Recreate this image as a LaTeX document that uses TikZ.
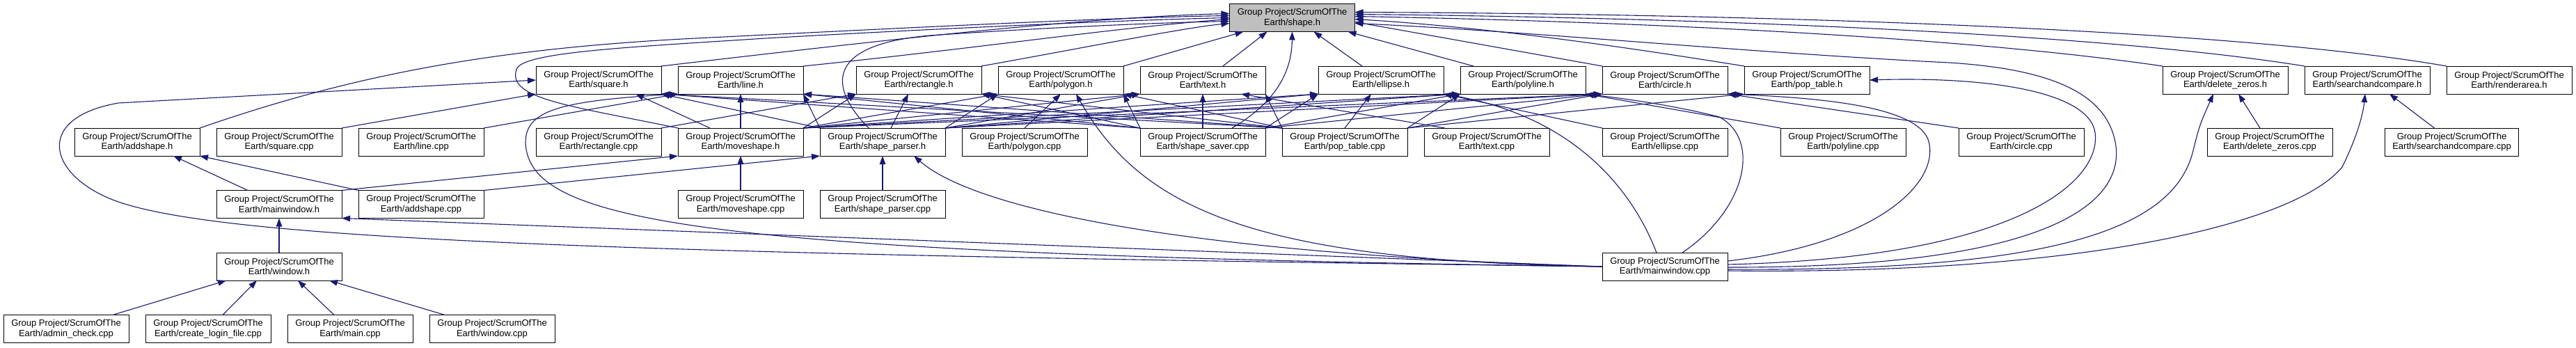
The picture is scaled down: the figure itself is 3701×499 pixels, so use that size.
\documentclass[tikz,border=0pt]{standalone}
\usepackage{fontspec}
\setmainfont{Liberation Sans}
\usepackage{tikz}
\usetikzlibrary{arrows.meta, positioning}
\definecolor{edgeblue}{RGB}{25,25,112}
\definecolor{curgray}{RGB}{191,191,191}
\tikzset{
  file/.style={
    rectangle, draw=black, fill=white, line width=1pt, outer sep=0pt,
    minimum width=180pt, minimum height=40pt, inner xsep=11pt,
    align=center, font=\fontsize{13pt}{14.5pt}\selectfont
  },
  cur/.style={file, fill=curgray},
  dep/.style={draw=edgeblue, line width=1.1pt, -{Triangle[length=12pt,width=8.5pt]}}
}

\begin{document}
\begin{tikzpicture}[x=1pt, y=-1pt]
  \useasboundingbox (0,0) rectangle (3701,499);

  \node[cur] (shp) at (1856.5,25.5) {Group Project/ScrumOfThe\\Earth/shape.h};

  % headers
  \node[file] (sqh) at (860,115) {Group Project/ScrumOfThe\\Earth/square.h};
  \node[file, right=24pt of sqh] (lnh) {Group Project/ScrumOfThe\\Earth/line.h};
  \node[file, right=76pt of lnh] (rch) {Group Project/ScrumOfThe\\Earth/rectangle.h};
  \node[file, right=24pt of rch] (pgh) {Group Project/ScrumOfThe\\Earth/polygon.h};
  \node[file, right=24pt of pgh] (txh) {Group Project/ScrumOfThe\\Earth/text.h};
  \node[file, right=76pt of txh] (elh) {Group Project/ScrumOfThe\\Earth/ellipse.h};
  \node[file, right=24pt of elh] (plh) {Group Project/ScrumOfThe\\Earth/polyline.h};
  \node[file, right=24pt of plh] (cih) {Group Project/ScrumOfThe\\Earth/circle.h};
  \node[file, right=24pt of cih] (pth) {Group Project/ScrumOfThe\\Earth/pop\_table.h};
  \node[file] (dzh) at (3197,115) {Group Project/ScrumOfThe\\Earth/delete\_zeros.h};
  \node[file, right=24pt of dzh] (sch) {Group Project/ScrumOfThe\\Earth/searchandcompare.h};
  \node[file, right=24pt of sch] (rah) {Group Project/ScrumOfThe\\Earth/renderarea.h};

  % second row
  \node[file] (ash) at (197,204) {Group Project/ScrumOfThe\\Earth/addshape.h};
  \node[file, right=24pt of ash] (sqc) {Group Project/ScrumOfThe\\Earth/square.cpp};
  \node[file, right=24pt of sqc] (lnc) {Group Project/ScrumOfThe\\Earth/line.cpp};
  \node[file, right=75pt of lnc] (rcc) {Group Project/ScrumOfThe\\Earth/rectangle.cpp};
  \node[file, right=24pt of rcc] (msh) {Group Project/ScrumOfThe\\Earth/moveshape.h};
  \node[file, right=24pt of msh] (sph) {Group Project/ScrumOfThe\\Earth/shape\_parser.h};
  \node[file, right=24pt of sph] (pgc) {Group Project/ScrumOfThe\\Earth/polygon.cpp};
  \node[file, right=76pt of pgc] (ssc) {Group Project/ScrumOfThe\\Earth/shape\_saver.cpp};
  \node[file, right=24pt of ssc] (ptc) {Group Project/ScrumOfThe\\Earth/pop\_table.cpp};
  \node[file, right=24pt of ptc] (txc) {Group Project/ScrumOfThe\\Earth/text.cpp};
  \node[file, right=76pt of txc] (elc) {Group Project/ScrumOfThe\\Earth/ellipse.cpp};
  \node[file, right=76pt of elc] (plc) {Group Project/ScrumOfThe\\Earth/polyline.cpp};
  \node[file, right=76pt of plc] (cic) {Group Project/ScrumOfThe\\Earth/circle.cpp};
  \node[file] (dzc) at (3261,204) {Group Project/ScrumOfThe\\Earth/delete\_zeros.cpp};
  \node[file] (scc) at (3522.5,204) {Group Project/ScrumOfThe\\Earth/searchandcompare.cpp};

  % lower rows
  \node[file] (mwh) at (401,293.5) {Group Project/ScrumOfThe\\Earth/mainwindow.h};
  \node[file, right=24pt of mwh] (asc) {Group Project/ScrumOfThe\\Earth/addshape.cpp};
  \node[file] (moc) at (1064,293.5) {Group Project/ScrumOfThe\\Earth/moveshape.cpp};
  \node[file, right=24pt of moc] (spc) {Group Project/ScrumOfThe\\Earth/shape\_parser.cpp};
  \node[file] (wnh) at (401,383) {Group Project/ScrumOfThe\\Earth/window.h};
  \node[file] (mwc) at (2392,383) {Group Project/ScrumOfThe\\Earth/mainwindow.cpp};
  \node[file] (adc) at (95,472.5) {Group Project/ScrumOfThe\\Earth/admin\_check.cpp};
  \node[file, right=24pt of adc] (clc) {Group Project/ScrumOfThe\\Earth/create\_login\_file.cpp};
  \node[file, right=24pt of clc] (mnc) {Group Project/ScrumOfThe\\Earth/main.cpp};
  \node[file, right=24pt of mnc] (wnc) {Group Project/ScrumOfThe\\Earth/window.cpp};

  % into shape.h
  \draw[dep] (sqh.north east) .. controls (1250,60) and (1550,25) .. ([yshift=6pt]shp.west);
  \draw[dep] (ash.north east) .. controls (500,110) and (700,70) .. (1000,55)
             .. controls (1300,40) and (1600,25) .. ([yshift=3pt]shp.west);
  \draw[dep] (msh.north west) .. controls (820,152) and (728,142) .. (742,100)
             .. controls (748,75) and (900,68) .. (1100,55)
             .. controls (1400,38) and (1650,28) .. (shp.west);
  \draw[dep] (lnh.north east) .. controls (1400,70) and (1600,40) .. ([yshift=-2pt]shp.west);
  \draw[dep] ([xshift=-20pt]sph.north) .. controls (1185,120) and (1190,60) .. (1350,50)
             .. controls (1500,40) and (1650,33) .. ([yshift=-5pt]shp.west);
  \draw[dep] (rch.north east) .. controls (1550,70) and (1700,40) .. ([yshift=-8pt]shp.west);
  \draw[dep] (pgh.north east) -- ([xshift=-70pt]shp.south);
  \draw[dep] ([xshift=29pt]txh.north) -- ([xshift=-36pt]shp.south);
  \draw[dep] ([xshift=42pt]ssc.north) .. controls (1845,140) and (1856,90) .. (shp.south);
  \draw[dep] ([xshift=-27pt]elh.north) -- ([xshift=31pt]shp.south);
  \draw[dep] ([xshift=-71pt]plh.north) -- ([xshift=80pt]shp.south);
  \draw[dep] (cih.north west) -- ([yshift=-6pt]shp.east);
  \draw[dep] (pth.north west) .. controls (2350,70) and (2150,40) .. ([yshift=-2pt]shp.east);
  \draw[dep] (dzh.north west) .. controls (2800,50) and (2300,30) .. ([yshift=2pt]shp.east);
  \draw[dep] (sch.north west) .. controls (3000,45) and (2400,25) .. ([yshift=5pt]shp.east);
  \draw[dep] (rah.north west) .. controls (3200,40) and (2500,20) .. ([yshift=8pt]shp.east);

  % sources to their headers
  \draw[dep] (sqc.north east) -- (sqh.south west);
  \draw[dep] (lnc.north east) -- (lnh.south west);
  \draw[dep] (rcc.north east) -- (rch.south west);
  \draw[dep] (pgc.north) -- (pgh.south);
  \draw[dep] ([xshift=-60pt]txc.north) -- ([xshift=55pt]txh.south);
  \draw[dep] (elc.north west) -- (elh.south east);
  \draw[dep] (plc.north west) -- (plh.south east);
  \draw[dep] (cic.north west) -- (cih.south east);
  \draw[dep] (ptc.north east) -- (pth.south west);
  \draw[dep] ([xshift=-14pt]dzc.north) -- ([xshift=19pt]dzh.south);
  \draw[dep] ([xshift=-25pt]scc.north) -- ([xshift=32pt]sch.south);

  % moveshape.h
  \draw[dep] ([xshift=-44pt]msh.north) -- ([xshift=53pt]sqh.south);
  \draw[dep] (msh.north) -- (lnh.south);
  \foreach \h in {rch,pgh,txh,elh,plh,cih}
    \draw[dep] (msh.north east) -- (\h.south west);

  % shape_parser.h
  \foreach \h in {sqh,lnh}
    \draw[dep] (sph.north west) -- (\h.south east);
  \draw[dep] ([xshift=12pt]sph.north) -- ([xshift=-15pt]rch.south);
  \foreach \h in {pgh,txh,elh,plh,cih}
    \draw[dep] (sph.north east) -- (\h.south west);

  % shape_saver.cpp
  \foreach \h in {sqh,lnh,rch,pgh}
    \draw[dep] (ssc.north west) -- (\h.south east);
  \draw[dep] (ssc.north) -- (txh.south);
  \foreach \h in {elh,plh,cih}
    \draw[dep] (ssc.north east) -- (\h.south west);

  % pop_table.cpp
  \foreach \h in {sqh,lnh,rch,pgh,txh}
    \draw[dep] (ptc.north west) -- (\h.south east);
  \draw[dep] (ptc.north) -- ([xshift=-14pt]elh.south);
  \foreach \h in {plh,cih}
    \draw[dep] (ptc.north east) -- (\h.south west);

  % left part
  \draw[dep] ([xshift=-45pt]mwh.north) -- ([xshift=52pt]ash.south);
  \draw[dep] (mwh.north east) -- (msh.south west);
  \draw[dep] (asc.north west) -- (ash.south east);
  \draw[dep] (asc.north east) -- (sph.south west);
  \draw[dep] (moc) -- (msh);
  \draw[dep] (spc) -- (sph);
  \draw[dep] (wnh) -- (mwh);
  \draw[dep] ([xshift=67pt]adc.north) -- ([xshift=-76pt]wnh.south);
  \draw[dep] ([xshift=21pt]clc.north) -- ([xshift=-32pt]wnh.south);
  \draw[dep] ([xshift=-23pt]mnc.north) -- ([xshift=27pt]wnh.south);
  \draw[dep] ([xshift=-68pt]wnc.north) -- ([xshift=72pt]wnh.south);

  % mainwindow.cpp
  \draw[dep] (mwc.west) -- (mwh.south east);
  \draw[dep] (mwc.west) .. controls (900,365) and (330,345) .. (170,290)
             .. controls (70,255) and (45,170) .. (170,148) -- (sqh.west);
  \draw[dep] (mwc.west) .. controls (1000,365) and (760,320) .. (755,205)
             .. controls (755,160) and (800,145) .. (lnh.south west);
  \draw[dep] (mwc.west) .. controls (1700,365) and (1400,300) .. ([xshift=45pt]sph.south);
  \draw[dep] (mwc.west) .. controls (1800,375) and (1640,300) .. ([xshift=22pt]pgh.south);
  \draw[dep] ([xshift=-12pt]mwc.north) .. controls (2340,260) and (2250,165) .. (elh.south east);
  \draw[dep] ([xshift=25pt]mwc.north) .. controls (2510,300) and (2530,200) .. (2470,168)
             .. controls (2400,150) and (2320,140) .. (plh.south east);
  \draw[dep] ([yshift=8pt]mwc.east) .. controls (2700,350) and (2790,260) .. (2770,200)
             .. controls (2750,150) and (2600,140) .. (cih.south east);
  \draw[dep] ([yshift=3pt]mwc.east) .. controls (2900,370) and (3020,260) .. (3010,190)
             .. controls (3000,130) and (2850,110) .. (pth.east);
  \draw[dep] ([yshift=-1pt]mwc.east) .. controls (2950,385) and (3050,290) .. (3040,210)
             .. controls (3030,140) and (2960,100) .. (2800,90)
             .. controls (2500,75) and (2200,45) .. ([yshift=-8pt]shp.east);
  \draw[dep] ([yshift=-4pt]mwc.east) .. controls (2950,390) and (3120,330) .. (3150,220)
             .. controls (3160,180) .. ([xshift=-17pt]dzh.south);
  \draw[dep] ([yshift=-6pt]mwc.east) .. controls (3000,395) and (3300,320) .. (3365,240)
             .. controls (3385,200) and (3395,165) .. ([xshift=-3pt]sch.south);
\end{tikzpicture}
\end{document}
